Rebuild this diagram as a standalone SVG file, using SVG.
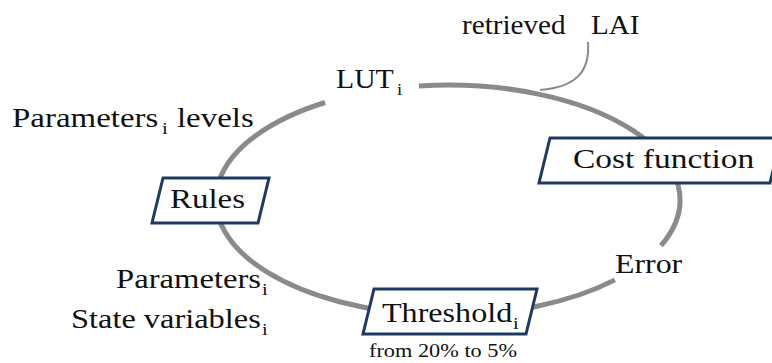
<svg xmlns="http://www.w3.org/2000/svg" width="772" height="363" viewBox="0 0 772 363">
<defs>
<style>
.box{fill:#fff;stroke:#1f3a60;stroke-width:3;stroke-linejoin:miter}
.cyc{fill:none;stroke:#8a8a8a;stroke-width:5}
.call{fill:none;stroke:#8a8a8a;stroke-width:2}
</style>
</defs>
<rect width="772" height="363" fill="#fff"/>
<g id="connectors">
<path class="cyc" d="M418.9,85.9 A232,115 0 0 1 660.9,245.7"/>
<path class="cyc" d="M614.9,279.9 A232,115 0 1 1 325.1,102.5"/>
<path class="call" d="M588,42 C590,70 578,87 540,90"/>
</g>
<g font-family="Liberation Serif" font-size="27" fill="#111">
<g id="retrieved-lai">
<text font-family="Liberation Serif" transform="matrix(1.08,0,0,1,462,34)">retrieved <tspan x="119.4">LAI</tspan></text>
</g>
<g id="lut">
<text font-family="Liberation Serif" transform="matrix(1.1,0,0,1,336,88)">LUT<tspan x="55.5" dy="7" font-size="17">i</tspan></text>
</g>
<g id="parameters-levels">
<text font-family="Liberation Serif" transform="matrix(1.22,0,0,1,12,127)">Parameters<tspan x="123" dy="7" font-size="17">i</tspan> <tspan x="135.2" dy="-7">levels</tspan></text>
</g>
<g id="rules">
<polygon class="box" points="163,178 269,178 258,223 152,223"/>
<text font-family="Liberation Serif" transform="matrix(1.22,0,0,1,170,208)">Rules</text>
</g>
<g id="cost-function">
<polygon class="box" points="550,138 781,138 770,183 539,183"/>
<text font-family="Liberation Serif" transform="matrix(1.24,0,0,1,573,168)">Cost function</text>
</g>
<g id="error">
<text font-family="Liberation Serif" transform="matrix(1.18,0,0,1,615,273)">Error</text>
</g>
<g id="threshold">
<polygon class="box" points="374,289 537,289 526,334 363,334"/>
<text font-family="Liberation Serif" transform="matrix(1.19,0,0,1,382,322)">Threshold<tspan x="110" dy="7" font-size="17">i</tspan></text>
<text font-family="Liberation Serif" font-size="18" transform="matrix(1.24,0,0,1,369,357)">from 20% to 5%</text>
</g>
<g id="parameters-state">
<text font-family="Liberation Serif" transform="matrix(1.21,0,0,1,116,288)">Parameters<tspan x="120.7" dy="7" font-size="17">i</tspan></text>
<text font-family="Liberation Serif" transform="matrix(1.2,0,0,1,71,328)">State variables<tspan x="159.2" dy="7" font-size="17">i</tspan></text>
</g>
</g>
</svg>
